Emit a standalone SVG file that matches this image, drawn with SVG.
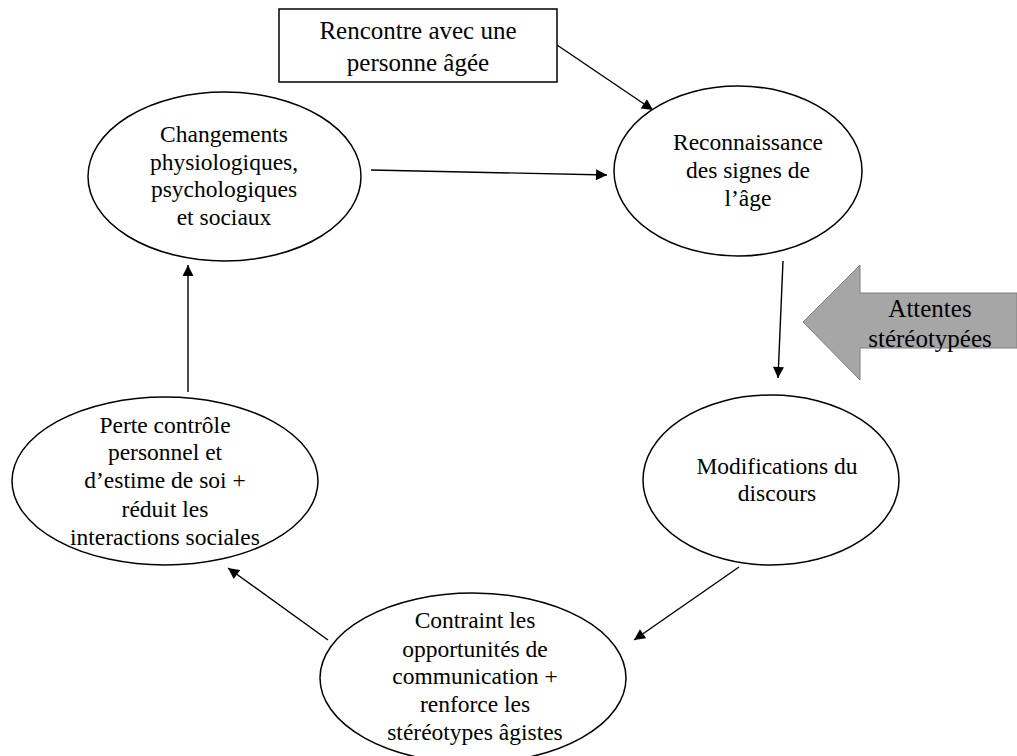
<svg xmlns="http://www.w3.org/2000/svg" width="1017" height="756" viewBox="0 0 1017 756">
<defs>
<style>
.n{fill:#fff;stroke:#000;stroke-width:1.5}
.t{font-family:'Liberation Serif','Times New Roman',serif;font-size:23.5px;fill:#000;text-anchor:middle}
.b{font-size:25px}
.c{stroke:#000;stroke-width:1.4;fill:none;marker-end:url(#ah)}
</style>
<marker id="ah" viewBox="0 0 10 10" refX="10" refY="5" markerWidth="12" markerHeight="11" markerUnits="userSpaceOnUse" orient="auto">
<path d="M0,0 L10,5 L0,10 z" fill="#000"/>
</marker>
</defs>
<rect width="1017" height="756" fill="#fff"/>
<g id="connectors">
<line class="c" x1="557" y1="45" x2="653" y2="110"/>
<line class="c" x1="371" y1="170" x2="607" y2="175"/>
<line class="c" x1="783" y1="261" x2="778" y2="378"/>
<line class="c" x1="739" y1="567" x2="634" y2="640"/>
<line class="c" x1="328" y1="640" x2="228" y2="568"/>
<line class="c" x1="188" y1="392" x2="188" y2="265"/>
</g>
<g id="rencontre">
<rect class="n" x="279" y="9" width="278" height="73"/>
<text class="t b" x="418" y="39">Rencontre avec une</text>
<text class="t b" x="418" y="71">personne âgée</text>
</g>
<g id="reconnaissance">
<ellipse class="n" cx="738" cy="171" rx="124" ry="85"/>
<text class="t" x="748" y="150">Reconnaissance</text>
<text class="t" x="748" y="178">des signes de</text>
<text class="t" x="748" y="206">l’âge</text>
</g>
<g id="changements">
<ellipse class="n" cx="224.5" cy="176.5" rx="136.5" ry="84.5"/>
<text class="t" x="224" y="142">Changements</text>
<text class="t" x="224" y="170">physiologiques,</text>
<text class="t" x="224" y="197">psychologiques</text>
<text class="t" x="224" y="225">et sociaux</text>
</g>
<g id="attentes">
<polygon points="803,322 860,265 860,293 1017,293 1017,348 860,348 860,380" fill="#a6a6a6" stroke="#7f7f7f" stroke-width="1"/>
<text class="t b" x="930" y="317">Attentes</text>
<text class="t b" x="930" y="347">stéréotypées</text>
</g>
<g id="modifications">
<ellipse class="n" cx="771" cy="480" rx="128" ry="85"/>
<text class="t" x="777" y="474">Modifications du</text>
<text class="t" x="777" y="501">discours</text>
</g>
<g id="contraint">
<ellipse class="n" cx="473" cy="678" rx="153" ry="85"/>
<text class="t" x="475" y="628">Contraint les</text>
<text class="t" x="475" y="657">opportunités de</text>
<text class="t" x="475" y="684">communication +</text>
<text class="t" x="475" y="712">renforce les</text>
<text class="t" x="475" y="740">stéréotypes âgistes</text>
</g>
<g id="perte">
<ellipse class="n" cx="165" cy="481" rx="153" ry="84"/>
<text class="t" x="165" y="433">Perte contrôle</text>
<text class="t" x="165" y="460">personnel et</text>
<text class="t" x="165" y="488">d’estime de soi +</text>
<text class="t" x="165" y="517">réduit les</text>
<text class="t" x="165" y="545">interactions sociales</text>
</g>
</svg>
